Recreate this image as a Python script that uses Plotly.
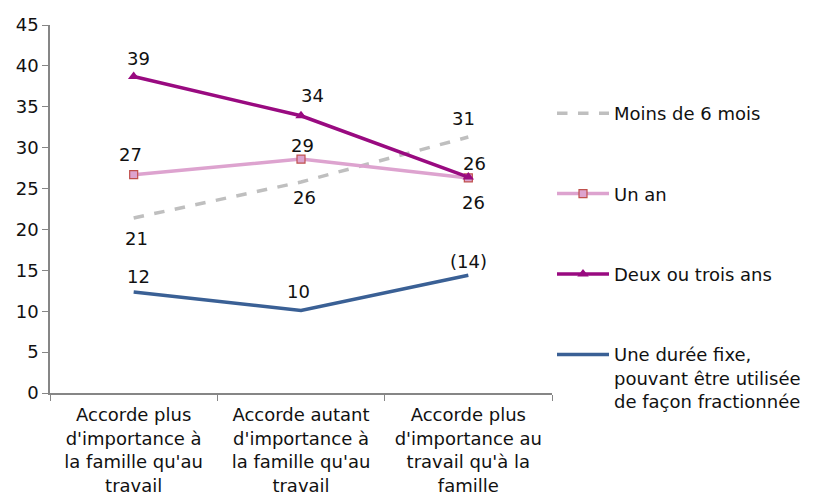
import plotly.graph_objects as go

categories = [
    "Accorde plus<br>d'importance à<br>la famille qu'au<br>travail",
    "Accorde autant<br>d'importance à<br>la famille qu'au<br>travail",
    "Accorde plus<br>d'importance au<br>travail qu'à la<br>famille",
]
series_names = [
    "Moins de 6 mois",
    "Un an",
    "Deux ou trois ans",
    "Une durée fixe,<br>pouvant être utilisée<br>de façon fractionnée",
]
moins_6_mois = [21.4, 25.8, 31.3]
un_an = [26.7, 28.6, 26.3]
deux_trois_ans = [38.7, 33.9, 26.4]
duree_fixe = [12.35, 10.1, 14.4]

labels_moins = ["21", "26", "31"]
labels_un_an = ["27", "29", "26"]
labels_deux = ["39", "34", "26"]
labels_fixe = ["12", "10", "(14)"]

FONT = "DejaVu Sans"
W, H = 808, 490  # page body adds an 8px offset in the screenshot
fig = go.Figure()

fig.add_trace(go.Scatter(
    x=categories, y=moins_6_mois, name=series_names[0], mode="lines",
    line=dict(color="#BFBFBF", width=3.5, dash="dash"), legendgroup="a"))
fig.add_trace(go.Scatter(
    x=categories, y=un_an, name=series_names[1], mode="lines+markers",
    line=dict(color="#DDA3CF", width=3.5),
    marker=dict(symbol="square", size=8, color="#DDA3CF",
                line=dict(color="#C0504D", width=1.2)), legendgroup="b"))
fig.add_trace(go.Scatter(
    x=categories, y=deux_trois_ans, name=series_names[2], mode="lines+markers",
    line=dict(color="#990A80", width=3.5),
    marker=dict(symbol="triangle-up", size=10, color="#990A80"), legendgroup="c"))
fig.add_trace(go.Scatter(
    x=categories, y=duree_fixe, name=series_names[3], mode="lines",
    line=dict(color="#3A6095", width=3.5), legendgroup="d"))

# label offsets (style only)
shifts = {
    "moins": [(3, -20), (3, -15), (-5, 19)],
    "un_an": [(-3, 20), (1, 14), (5, -25)],
    "deux": [(5, 18), (11, 20), (6, 14)],
    "fixe": [(5, 16), (-3, 19), (0, 14)],
}
for key, vals, labs in [("moins", moins_6_mois, labels_moins),
                        ("un_an", un_an, labels_un_an),
                        ("deux", deux_trois_ans, labels_deux),
                        ("fixe", duree_fixe, labels_fixe)]:
    for i, (c, v, t) in enumerate(zip(categories, vals, labs)):
        xs, ys = shifts[key][i]
        fig.add_annotation(x=c, y=v, text=t, showarrow=False,
                           xshift=xs, yshift=ys,
                           font=dict(family=FONT, size=18, color="#111111"))

fig.update_layout(
    width=W, height=H,
    margin=dict(l=42, r=263, t=17, b=105),
    paper_bgcolor="white", plot_bgcolor="white",
    font=dict(family=FONT, size=18, color="#111111"),
    showlegend=True,
    legend=dict(xref="container", yref="container",
                x=544 / W, xanchor="left", y=1 - 87 / H, yanchor="top",
                tracegroupgap=54, valign="top", itemwidth=52,
                maxheight=420,
                font=dict(family=FONT, size=18, color="#111111"),
                bgcolor="rgba(0,0,0,0)"),
    xaxis=dict(type="category", tickson="boundaries", ticks="outside",
               range=[-0.5, 2.5], ticklabelstandoff=5,
               ticklen=6, tickcolor="#868686", showline=True,
               linecolor="#868686", linewidth=1.5, showgrid=False,
               automargin=False,
               tickfont=dict(family=FONT, size=18, color="#111111")),
    yaxis=dict(range=[0, 45], dtick=5, ticks="outside", ticklen=6,
               tickcolor="#868686", showline=True, linecolor="#868686",
               linewidth=1.5, showgrid=False, zeroline=False,
               automargin=False,
               tickfont=dict(family=FONT, size=18, color="#111111")),
)

fig.write_html("out.html")
